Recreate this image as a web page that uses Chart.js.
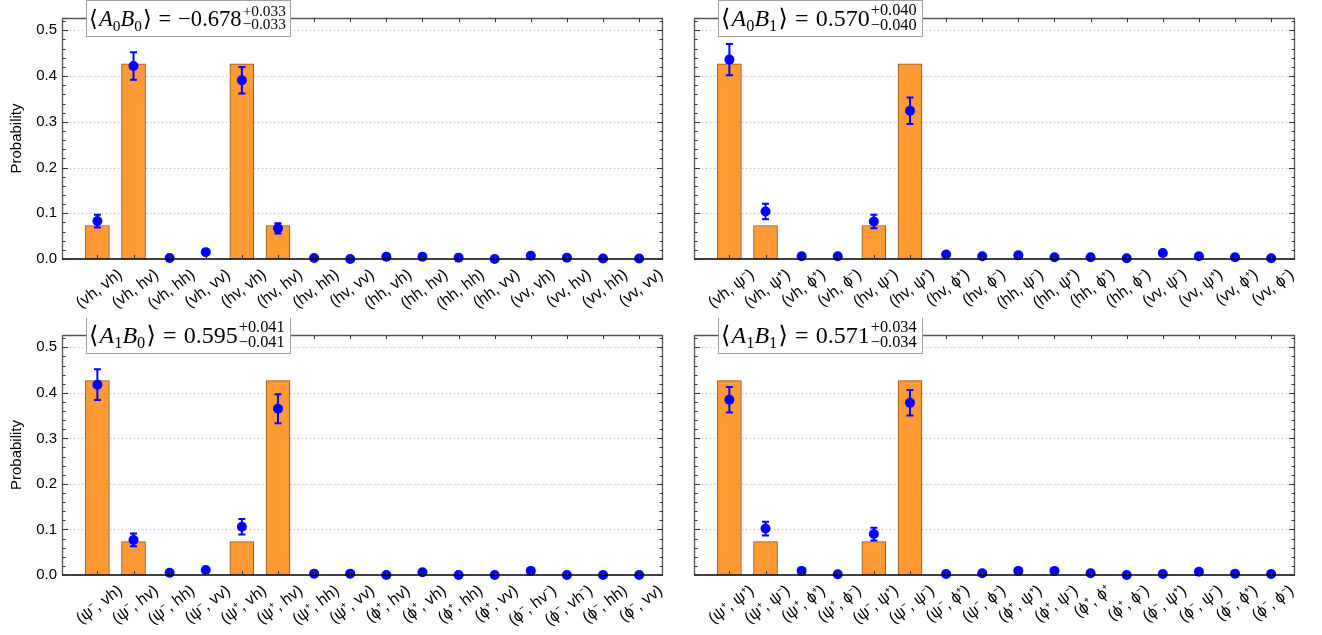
<!DOCTYPE html>
<html>
<head>
<meta charset="utf-8">
<script src="https://cdn.jsdelivr.net/npm/chart.js@4.4.0/dist/chart.umd.min.js"></script>
<style>
  body { margin: 0; background: #fff; width: 1322px; height: 635px; position: relative; overflow: hidden; }
  .panel { position: absolute; }
</style>
</head>
<body>
<div class="panel" style="left:0;top:0;width:675px;height:318px"><canvas id="c0"></canvas></div>
<div class="panel" style="left:661px;top:0;width:661px;height:318px"><canvas id="c1"></canvas></div>
<div class="panel" style="left:0;top:318px;width:675px;height:317px"><canvas id="c2"></canvas></div>
<div class="panel" style="left:661px;top:318px;width:661px;height:317px"><canvas id="c3"></canvas></div>
<script>
// ---- data ----
const labelsA0B0 = ["(vh, vh)", "(vh, hv)", "(vh, hh)", "(vh, vv)", "(hv, vh)", "(hv, hv)", "(hv, hh)", "(hv, vv)",
  "(hh, vh)", "(hh, hv)", "(hh, hh)", "(hh, vv)", "(vv, vh)", "(vv, hv)", "(vv, hh)", "(vv, vv)"];
const labelsA0B1 = ["(vh, ψ⁻)", "(vh, ψ⁺)", "(vh, ϕ⁺)", "(vh, ϕ⁻)", "(hv, ψ⁻)", "(hv, ψ⁺)", "(hv, ϕ⁺)", "(hv, ϕ⁻)",
  "(hh, ψ⁻)", "(hh, ψ⁺)", "(hh, ϕ⁺)", "(hh, ϕ⁻)", "(vv, ψ⁻)", "(vv, ψ⁺)", "(vv, ϕ⁺)", "(vv, ϕ⁻)"];
const labelsA1B0 = ["(ψ⁻, vh)", "(ψ⁻, hv)", "(ψ⁻, hh)", "(ψ⁻, vv)", "(ψ⁺, vh)", "(ψ⁺, hv)", "(ψ⁺, hh)", "(ψ⁺, vv)",
  "(ϕ⁺, hv)", "(ϕ⁺, vh)", "(ϕ⁺, hh)", "(ϕ⁺, vv)", "(ϕ⁻, hv⁻)", "(ϕ⁻, vh⁻)", "(ϕ⁻, hh)", "(ϕ⁻, vv)"];
const labelsA1B1 = ["(ψ⁺, ψ⁺)", "(ψ⁺, ψ⁻)", "(ψ⁺, ϕ⁺)", "(ψ⁺, ϕ⁻)", "(ψ⁻, ψ⁺)", "(ψ⁻, ψ⁻)", "(ψ⁻, ϕ⁺)", "(ψ⁻, ϕ⁻)",
  "(ϕ⁺, ψ⁺)", "(ϕ⁺, ψ⁻)", "(ϕ⁺, ϕ⁺", "(ϕ⁺, ϕ⁻)", "(ϕ⁻, ψ⁺)", "(ϕ⁻, ψ⁻)", "(ϕ⁻, ϕ⁺)", "(ϕ⁻, ϕ⁻)"];

const theoryA0B0 = [0.0732, 0.4268, 0, 0, 0.4268, 0.0732, 0, 0, 0, 0, 0, 0, 0, 0, 0, 0];
const theoryA0B1 = [0.4268, 0.0732, 0, 0, 0.0732, 0.4268, 0, 0, 0, 0, 0, 0, 0, 0, 0, 0];
const theoryA1B0 = [0.4268, 0.0732, 0, 0, 0.0732, 0.4268, 0, 0, 0, 0, 0, 0, 0, 0, 0, 0];
const theoryA1B1 = [0.4268, 0.0732, 0, 0, 0.0732, 0.4268, 0, 0, 0, 0, 0, 0, 0, 0, 0, 0];

const measA0B0 = [0.083, 0.422, 0.002, 0.015, 0.391, 0.067, 0.002, 0.000, 0.005, 0.005, 0.003, 0.000, 0.007, 0.003, 0.001, 0.001];
const measA0B1 = [0.436, 0.104, 0.006, 0.006, 0.082, 0.324, 0.010, 0.006, 0.008, 0.004, 0.004, 0.0015, 0.013, 0.006, 0.004, 0.0015];
const measA1B0 = [0.418, 0.077, 0.005, 0.011, 0.106, 0.365, 0.003, 0.003, 0.000, 0.006, 0.000, 0.000, 0.009, 0.000, 0.000, 0.000];
const measA1B1 = [0.385, 0.102, 0.009, 0.0015, 0.090, 0.378, 0.002, 0.004, 0.009, 0.009, 0.004, 0.000, 0.002, 0.007, 0.003, 0.002];

const errA0B0 = [0.014, 0.030, 0.002, 0.004, 0.029, 0.011, 0.002, 0.001, 0.002, 0.002, 0.002, 0.001, 0.003, 0.002, 0.001, 0.001];
const errA0B1 = [0.034, 0.017, 0.003, 0.003, 0.015, 0.029, 0.003, 0.003, 0.003, 0.002, 0.002, 0.001, 0.004, 0.003, 0.002, 0.001];
const errA1B0 = [0.034, 0.014, 0.002, 0.003, 0.017, 0.032, 0.002, 0.002, 0.001, 0.003, 0.001, 0.001, 0.003, 0.001, 0.001, 0.001];
const errA1B1 = [0.028, 0.015, 0.003, 0.001, 0.014, 0.028, 0.002, 0.002, 0.003, 0.003, 0.002, 0.001, 0.002, 0.003, 0.002, 0.002];

const yTicks = [0, 0.1, 0.2, 0.3, 0.4, 0.5];
const titleA = [0, 0, 1, 1];
const titleB = [0, 1, 0, 1];
const titleValue = ["−0.678", "0.570", "0.595", "0.571"];
const titlePlus = ["+0.033", "+0.040", "+0.041", "+0.034"];
const titleMinus = ["−0.033", "−0.040", "−0.041", "−0.034"];

const panels = [
  { labels: labelsA0B0, theory: theoryA0B0, meas: measA0B0, err: errA0B0, showY: true },
  { labels: labelsA0B1, theory: theoryA0B1, meas: measA0B1, err: errA0B1, showY: false },
  { labels: labelsA1B0, theory: theoryA1B0, meas: measA1B0, err: errA1B0, showY: true },
  { labels: labelsA1B1, theory: theoryA1B1, meas: measA1B1, err: errA1B1, showY: false },
];

const SANS = '"Liberation Sans", Arial, sans-serif';
const SERIF = '"Liberation Serif", "DejaVu Serif", serif';

// title like <A0B0> = v (+e / -e), scaled to fill its box
function drawTitle(ctx, a, k) {
  const bx = a.left + 24, bw = 204, bh = 36, by = a.top - 18;
  ctx.fillStyle = '#fff';
  ctx.fillRect(bx, by, bw, bh);
  ctx.strokeStyle = '#a0a0a0';
  ctx.lineWidth = 1;
  ctx.strokeRect(bx + 0.5, by + 0.5, bw, bh);

  const layout = (fs, draw, x0, base) => {
    let x = x0;
    const big = fs + 'px ' + SERIF, ital = 'italic ' + fs + 'px ' + SERIF, small = (fs * 0.68) + 'px ' + SERIF;
    const put = (s, f, dy) => {
      ctx.font = f;
      if (draw) ctx.fillText(s, x, base + (dy || 0));
      x += ctx.measureText(s).width;
    };
    put('⟨', big); x += fs * 0.05;
    put('A', ital); put(String(titleA[k]), small, fs * 0.2);
    put('B', ital); put(String(titleB[k]), small, fs * 0.2);
    x += fs * 0.05; put('⟩', big);
    x += fs * 0.3; put('=', big); x += fs * 0.3;
    put(titleValue[k], big);
    ctx.font = small;
    const w = Math.max(ctx.measureText(titlePlus[k]).width, ctx.measureText(titleMinus[k]).width);
    if (draw) {
      ctx.fillText(titlePlus[k], x + 1, base - fs * 0.45);
      ctx.fillText(titleMinus[k], x + 1, base + fs * 0.15);
    }
    return x + 1 + w - x0;
  };
  ctx.fillStyle = '#000';
  ctx.textAlign = 'left';
  ctx.textBaseline = 'alphabetic';
  const w0 = layout(22, false, 0, 0);
  const fs = Math.min(24, 22 * (bw - 7) / w0);
  layout(fs, true, bx + 3, by + 26);
}

const framePlugin = {
  id: 'frame',
  beforeDatasetsDraw(chart) {
    const { ctx, chartArea: a, scales: { y } } = chart;
    ctx.save();
    ctx.strokeStyle = '#b8b8b8';
    ctx.lineWidth = 1;
    ctx.setLineDash([1.2, 2.8]);
    yTicks.forEach(v => {
      if (v === 0) return;
      const py = Math.round(y.getPixelForValue(v)) + 0.5;
      ctx.beginPath(); ctx.moveTo(a.left, py); ctx.lineTo(a.right, py); ctx.stroke();
    });
    ctx.restore();
  },
  afterDatasetDraw(chart, args, opts) {
    if (args.index !== 0) return;
    const { ctx, scales: { x, y } } = chart;
    const p = panels[opts.k];
    ctx.save();
    ctx.strokeStyle = '#0000ff';
    ctx.lineWidth = 2;
    p.meas.forEach((v, i) => {
      const px = x.getPixelForValue(i);
      const top = y.getPixelForValue(v + p.err[i]);
      const bot = y.getPixelForValue(Math.max(0, v - p.err[i]));
      ctx.beginPath();
      ctx.moveTo(px, top); ctx.lineTo(px, bot);
      ctx.moveTo(px - 3.5, top); ctx.lineTo(px + 3.5, top);
      ctx.moveTo(px - 3.5, bot); ctx.lineTo(px + 3.5, bot);
      ctx.stroke();
    });
    ctx.restore();
  },
  afterDraw(chart, args, opts) {
    const { ctx, chartArea: a, scales: { x, y } } = chart;
    const p = panels[opts.k];
    ctx.save();
    // frame
    ctx.lineWidth = 1.3;
    ctx.strokeStyle = '#555';
    ctx.beginPath();
    ctx.moveTo(a.left + 0.5, a.bottom); ctx.lineTo(a.left + 0.5, a.top + 0.5);
    ctx.lineTo(a.right - 0.5, a.top + 0.5); ctx.lineTo(a.right - 0.5, a.bottom);
    ctx.stroke();
    ctx.strokeStyle = '#000';
    ctx.lineWidth = 1.5;
    ctx.beginPath(); ctx.moveTo(a.left, a.bottom); ctx.lineTo(a.right, a.bottom); ctx.stroke();
    // y ticks (minor every 0.02) on left and right
    ctx.lineWidth = 1;
    ctx.strokeStyle = '#333';
    for (let j = 0; j <= 26; j++) {
      const v = j * 0.02;
      const py = Math.round(y.getPixelForValue(v)) + 0.5;
      if (py < a.top + 2) continue;
      const len = j % 5 === 0 ? 6 : 3.5;
      ctx.beginPath();
      ctx.moveTo(a.left, py); ctx.lineTo(a.left + len, py);
      ctx.moveTo(a.right, py); ctx.lineTo(a.right - len, py);
      ctx.stroke();
    }
    // x ticks on top and bottom
    p.labels.forEach((l, i) => {
      const px = Math.round(x.getPixelForValue(i)) + 0.5;
      ctx.beginPath();
      ctx.moveTo(px, a.top); ctx.lineTo(px, a.top + 4);
      ctx.moveTo(px, a.bottom); ctx.lineTo(px, a.bottom - 4);
      ctx.stroke();
    });
    // x labels, rotated about their centre
    ctx.fillStyle = '#000';
    ctx.font = '16px ' + SANS;
    const th = 37 * Math.PI / 180;
    p.labels.forEach((l, i) => {
      const px = x.getPixelForValue(i);
      const w = ctx.measureText(l).width, h = 15;
      const halfH = (w * Math.sin(th) + h * Math.cos(th)) / 2;
      ctx.save();
      ctx.translate(px + 2, a.bottom + 8 + halfH);
      ctx.rotate(-th);
      ctx.textAlign = 'center';
      ctx.textBaseline = 'middle';
      ctx.fillText(l, 0, 0);
      ctx.restore();
    });
    // y labels
    if (p.showY) {
      ctx.font = '15px ' + SANS;
      ctx.textAlign = 'right';
      ctx.textBaseline = 'middle';
      yTicks.forEach(v => ctx.fillText(v.toFixed(1), a.left - 5, y.getPixelForValue(v)));
      ctx.save();
      ctx.translate(17, (a.top + a.bottom) / 2);
      ctx.rotate(-Math.PI / 2);
      ctx.textAlign = 'center';
      ctx.fillText('Probability', 0, 0);
      ctx.restore();
    }
    drawTitle(ctx, a, opts.k);
    ctx.restore();
  }
};

panels.forEach((p, k) => {
  const left = k % 2 === 0;
  const top = k < 2;
  new Chart(document.getElementById('c' + k), {
    type: 'bar',
    data: {
      datasets: [
        {
          type: 'bar',
          data: p.theory.map((v, i) => ({ x: i, y: v })),
          backgroundColor: '#ff9a35',
          borderColor: '#8c5522',
          borderWidth: 1,
          barThickness: 24,
          order: 2,
        },
        {
          type: 'scatter',
          data: p.meas.map((v, i) => ({ x: i, y: v })),
          backgroundColor: '#0000ff',
          borderWidth: 0,
          pointRadius: 5,
          clip: false,
          order: 1,
        },
      ],
    },
    options: {
      responsive: true,
      maintainAspectRatio: false,
      animation: false,
      layout: {
        padding: {
          left: left ? 62 : 33,
          right: left ? 12 : 27,
          top: top ? 18 : 17,
          bottom: top ? 59 : 60,
        },
      },
      scales: {
        x: { type: 'linear', min: -0.98, max: 15.66, offset: false, display: false },
        y: { min: 0, max: 0.527, display: false },
      },
      plugins: {
        legend: { display: false },
        tooltip: { enabled: false },
        frame: { k: k },
      },
    },
    plugins: [framePlugin],
  });
});
</script>
</body>
</html>
